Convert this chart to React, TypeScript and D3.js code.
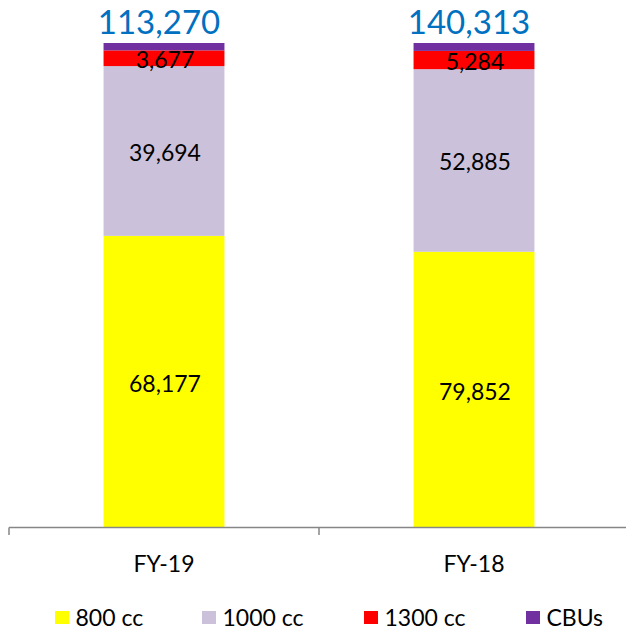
import React from "react";
import * as d3 from "d3";

// categories and series
const years = ["FY-19", "FY-18"];
const seriesNames = ["800 cc", "1000 cc", "1300 cc", "CBUs"];
const cc800 = [68177, 79852];
const cc1000 = [39694, 52885];
const cc1300 = [3677, 5284];
const cbus = [1722, 2292];
const totals = [113270, 140313];
const seriesColors = ["#FFFF00", "#CCC1DA", "#FF0000", "#7030A0"];

const W = 626;
const H = 629;
const FONT = "Lato, 'Open Sans', sans-serif";

export default function App() {
  const rows = years.map((y, i) => ({
    year: y,
    "800 cc": cc800[i],
    "1000 cc": cc1000[i],
    "1300 cc": cc1300[i],
    CBUs: cbus[i],
  }));

  // 100% stacked, like the source chart
  const stacked = d3.stack<any>().keys(seriesNames).offset(d3.stackOffsetExpand)(rows);

  const x = d3.scaleBand().domain(years).range([9, 629]).padding(0);
  const y = d3.scaleLinear().domain([0, 1]).range([527.5, 43]);
  const barW = x.bandwidth() * 0.39;
  const fmt = d3.format(",");
  const mid = (yr: string) => (x(yr) as number) + x.bandwidth() / 2;

  const legendX = [55, 202, 364, 526];

  return (
    <svg
      width={W}
      height={H}
      style={{ position: "absolute", left: 0, top: 0, display: "block", background: "#fff" }}
      fontFamily={FONT}
    >
      {/* stacked bars */}
      {stacked.map((layer, si) => (
        <g key={seriesNames[si]} fill={seriesColors[si]}>
          {layer.map((d, i) => (
            <rect
              key={years[i]}
              x={mid(years[i]) - barW / 2}
              y={y(d[1])}
              width={barW}
              height={y(d[0]) - y(d[1])}
            />
          ))}
        </g>
      ))}

      {/* segment labels, all but CBUs */}
      {stacked.slice(0, 3).map((layer, si) => (
        <g key={"lab" + si} fontSize={23} fill="#000" textAnchor="middle">
          {layer.map((d, i) => {
            const vals = [cc800, cc1000, cc1300][si];
            return (
              <text key={years[i]} x={mid(years[i]) + 1} y={(y(d[0]) + y(d[1])) / 2 + 1} dominantBaseline="central">
                {fmt(vals[i])}
              </text>
            );
          })}
        </g>
      ))}

      {/* totals */}
      {years.map((yr, i) => (
        <text key={"tot" + yr} x={mid(yr) - 5} y={33.5} textAnchor="middle" fontSize={33} fill="#0070C0">
          {fmt(totals[i])}
        </text>
      ))}

      {/* x axis */}
      <g stroke="#868686" strokeWidth={1.5}>
        <line x1={9} x2={W} y1={527.5} y2={527.5} />
        {years.map((yr) => (
          <line key={"t" + yr} x1={x(yr)} x2={x(yr)} y1={527.5} y2={535} />
        ))}
      </g>
      {years.map((yr) => (
        <text
          key={"c" + yr}
          x={mid(yr)}
          y={563}
          textAnchor="middle"
          dominantBaseline="central"
          fontSize={23}
          fill="#000"
        >
          {yr}
        </text>
      ))}

      {/* legend */}
      {seriesNames.map((s, i) => (
        <g key={"lg" + s} transform={`translate(${legendX[i]},0)`}>
          <rect x={0} y={611} width={14} height={13} fill={seriesColors[i]} />
          <text x={20.5} y={617} dominantBaseline="central" fontSize={23} fill="#000">
            {s}
          </text>
        </g>
      ))}
    </svg>
  );
}
